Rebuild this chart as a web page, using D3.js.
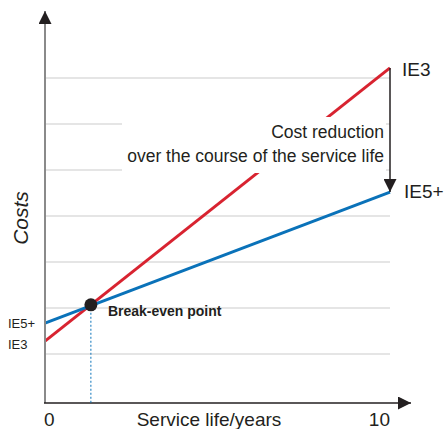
<!DOCTYPE html>
<html lang="en">
<head>
  <meta charset="UTF-8">
  <title>Costs over service life</title>
  <script src="https://d3js.org/d3.v7.min.js"></script>
  <style>
    body { margin: 0; padding: 0; background: #fff; }
    svg { display: block; font-family: "Liberation Sans Narrow", "Arial Narrow", sans-serif; }
  </style>
</head>
<body>
  <script>
    // data (cost in grid units, service life in years)
    const years = [0, 10];
    const ie3Costs = [1.28, 7.22];
    const ie5Costs = [1.67, 4.52];
    const breakEven = { year: 1.33, cost: 2.07 };
    const gridValues = [1, 2, 3, 4, 5, 6, 7];
    const xTickLabels = ["0", "10"];

    const width = 444, height = 429;
    const x0 = 45, x1 = 390, axisY = 403;

    const x = d3.scaleLinear().domain([0, 10]).range([x0, x1]);
    const y = d3.scaleLinear().domain([0, 7]).range([400, 78]);

    const red = "#d82330", blue = "#0a72b9";

    const svg = d3.create("svg")
        .attr("width", width)
        .attr("height", height);

    const defs = svg.append("defs");
    defs.append("marker")
        .attr("id", "tip")
        .attr("viewBox", "0 0 10 10")
        .attr("refX", 10).attr("refY", 5)
        .attr("markerUnits", "userSpaceOnUse")
        .attr("markerWidth", 14).attr("markerHeight", 13)
        .attr("orient", "auto")
      .append("path")
        .attr("d", "M0,0L10,5L0,10Z")
        .attr("fill", "#231f20");

    // grid
    svg.append("g")
        .attr("stroke", "#dcdcdc")
        .attr("stroke-width", 1.5)
      .selectAll("line")
      .data(gridValues)
      .join("line")
        .attr("x1", x0).attr("x2", x1)
        .attr("y1", d => y(d)).attr("y2", d => y(d));

    // lines
    const line = d3.line().x((d, i) => x(years[i])).y(d => y(d));
    svg.append("path").attr("d", line(ie3Costs))
        .attr("fill", "none").attr("stroke", red).attr("stroke-width", 3);
    svg.append("path").attr("d", line(ie5Costs))
        .attr("fill", "none").attr("stroke", blue).attr("stroke-width", 3);

    // white box behind annotation
    svg.append("rect")
        .attr("x", 122).attr("y", 117)
        .attr("width", 264).attr("height", 56)
        .attr("fill", "#fff");

    // axes
    svg.append("line")
        .attr("x1", x0).attr("x2", x0)
        .attr("y1", axisY).attr("y2", 11)
        .attr("stroke", "#8a8a8a").attr("stroke-width", 2)
        .attr("marker-end", "url(#tip)");
    svg.append("line")
        .attr("x1", x0 - 1).attr("x2", 411)
        .attr("y1", axisY).attr("y2", axisY)
        .attr("stroke", "#231f20").attr("stroke-width", 1.5)
        .attr("marker-end", "url(#tip)");

    // break-even drop line and dot
    svg.append("line")
        .attr("x1", x(breakEven.year)).attr("x2", x(breakEven.year))
        .attr("y1", y(breakEven.cost)).attr("y2", axisY)
        .attr("stroke", blue).attr("stroke-width", 1)
        .attr("stroke-dasharray", "2,2");
    svg.append("circle")
        .attr("cx", x(breakEven.year)).attr("cy", y(breakEven.cost))
        .attr("r", 6.5).attr("fill", "#231f20");
    svg.append("text")
        .attr("x", x(breakEven.year) + 17).attr("y", y(breakEven.cost) + 11)
        .attr("font-family", "Liberation Sans, Arial, sans-serif")
        .attr("font-weight", "bold").attr("font-size", 14)
        .attr("fill", "#231f20")
        .text("Break-even point");

    // cost reduction arrow
    svg.append("line")
        .attr("x1", x(10)).attr("x2", x(10))
        .attr("y1", y(ie3Costs[1])).attr("y2", y(ie5Costs[1]))
        .attr("stroke", "#231f20").attr("stroke-width", 1.5)
        .attr("marker-end", "url(#tip)");

    const ann = svg.append("g")
        .attr("font-size", 17.5).attr("fill", "#231f20")
        .attr("text-anchor", "end");
    ann.append("text").attr("x", 384).attr("y", 138).text("Cost reduction");
    ann.append("text").attr("x", 384).attr("y", 162).text("over the course of the service life");

    // series labels at the end
    svg.append("text").attr("x", 402).attr("y", 76)
        .attr("font-size", 19).attr("fill", "#231f20").text("IE3");
    svg.append("text").attr("x", 404).attr("y", 198)
        .attr("font-size", 19).attr("fill", "#231f20").text("IE5+");

    // series labels at the start
    svg.append("text").attr("x", 8).attr("y", 328)
        .attr("font-size", 13).attr("fill", "#231f20").text("IE5+");
    svg.append("text").attr("x", 8).attr("y", 349)
        .attr("font-size", 13).attr("fill", "#231f20").text("IE3");

    // x tick labels and title
    svg.append("text").attr("x", x(0) - 1).attr("y", 426)
        .attr("font-size", 19).attr("fill", "#231f20").text(xTickLabels[0]);
    svg.append("text").attr("x", x(10)).attr("y", 426)
        .attr("text-anchor", "end")
        .attr("font-size", 19).attr("fill", "#231f20").text(xTickLabels[1]);
    svg.append("text").attr("x", 209).attr("y", 426)
        .attr("text-anchor", "middle")
        .attr("font-size", 19).attr("fill", "#231f20").text("Service life/years");

    svg.append("text")
        .attr("transform", "translate(28,218) rotate(-90)")
        .attr("text-anchor", "middle")
        .attr("font-style", "italic")
        .attr("font-size", 21).attr("fill", "#231f20").text("Costs");

    document.body.appendChild(svg.node());
  </script>
</body>
</html>
